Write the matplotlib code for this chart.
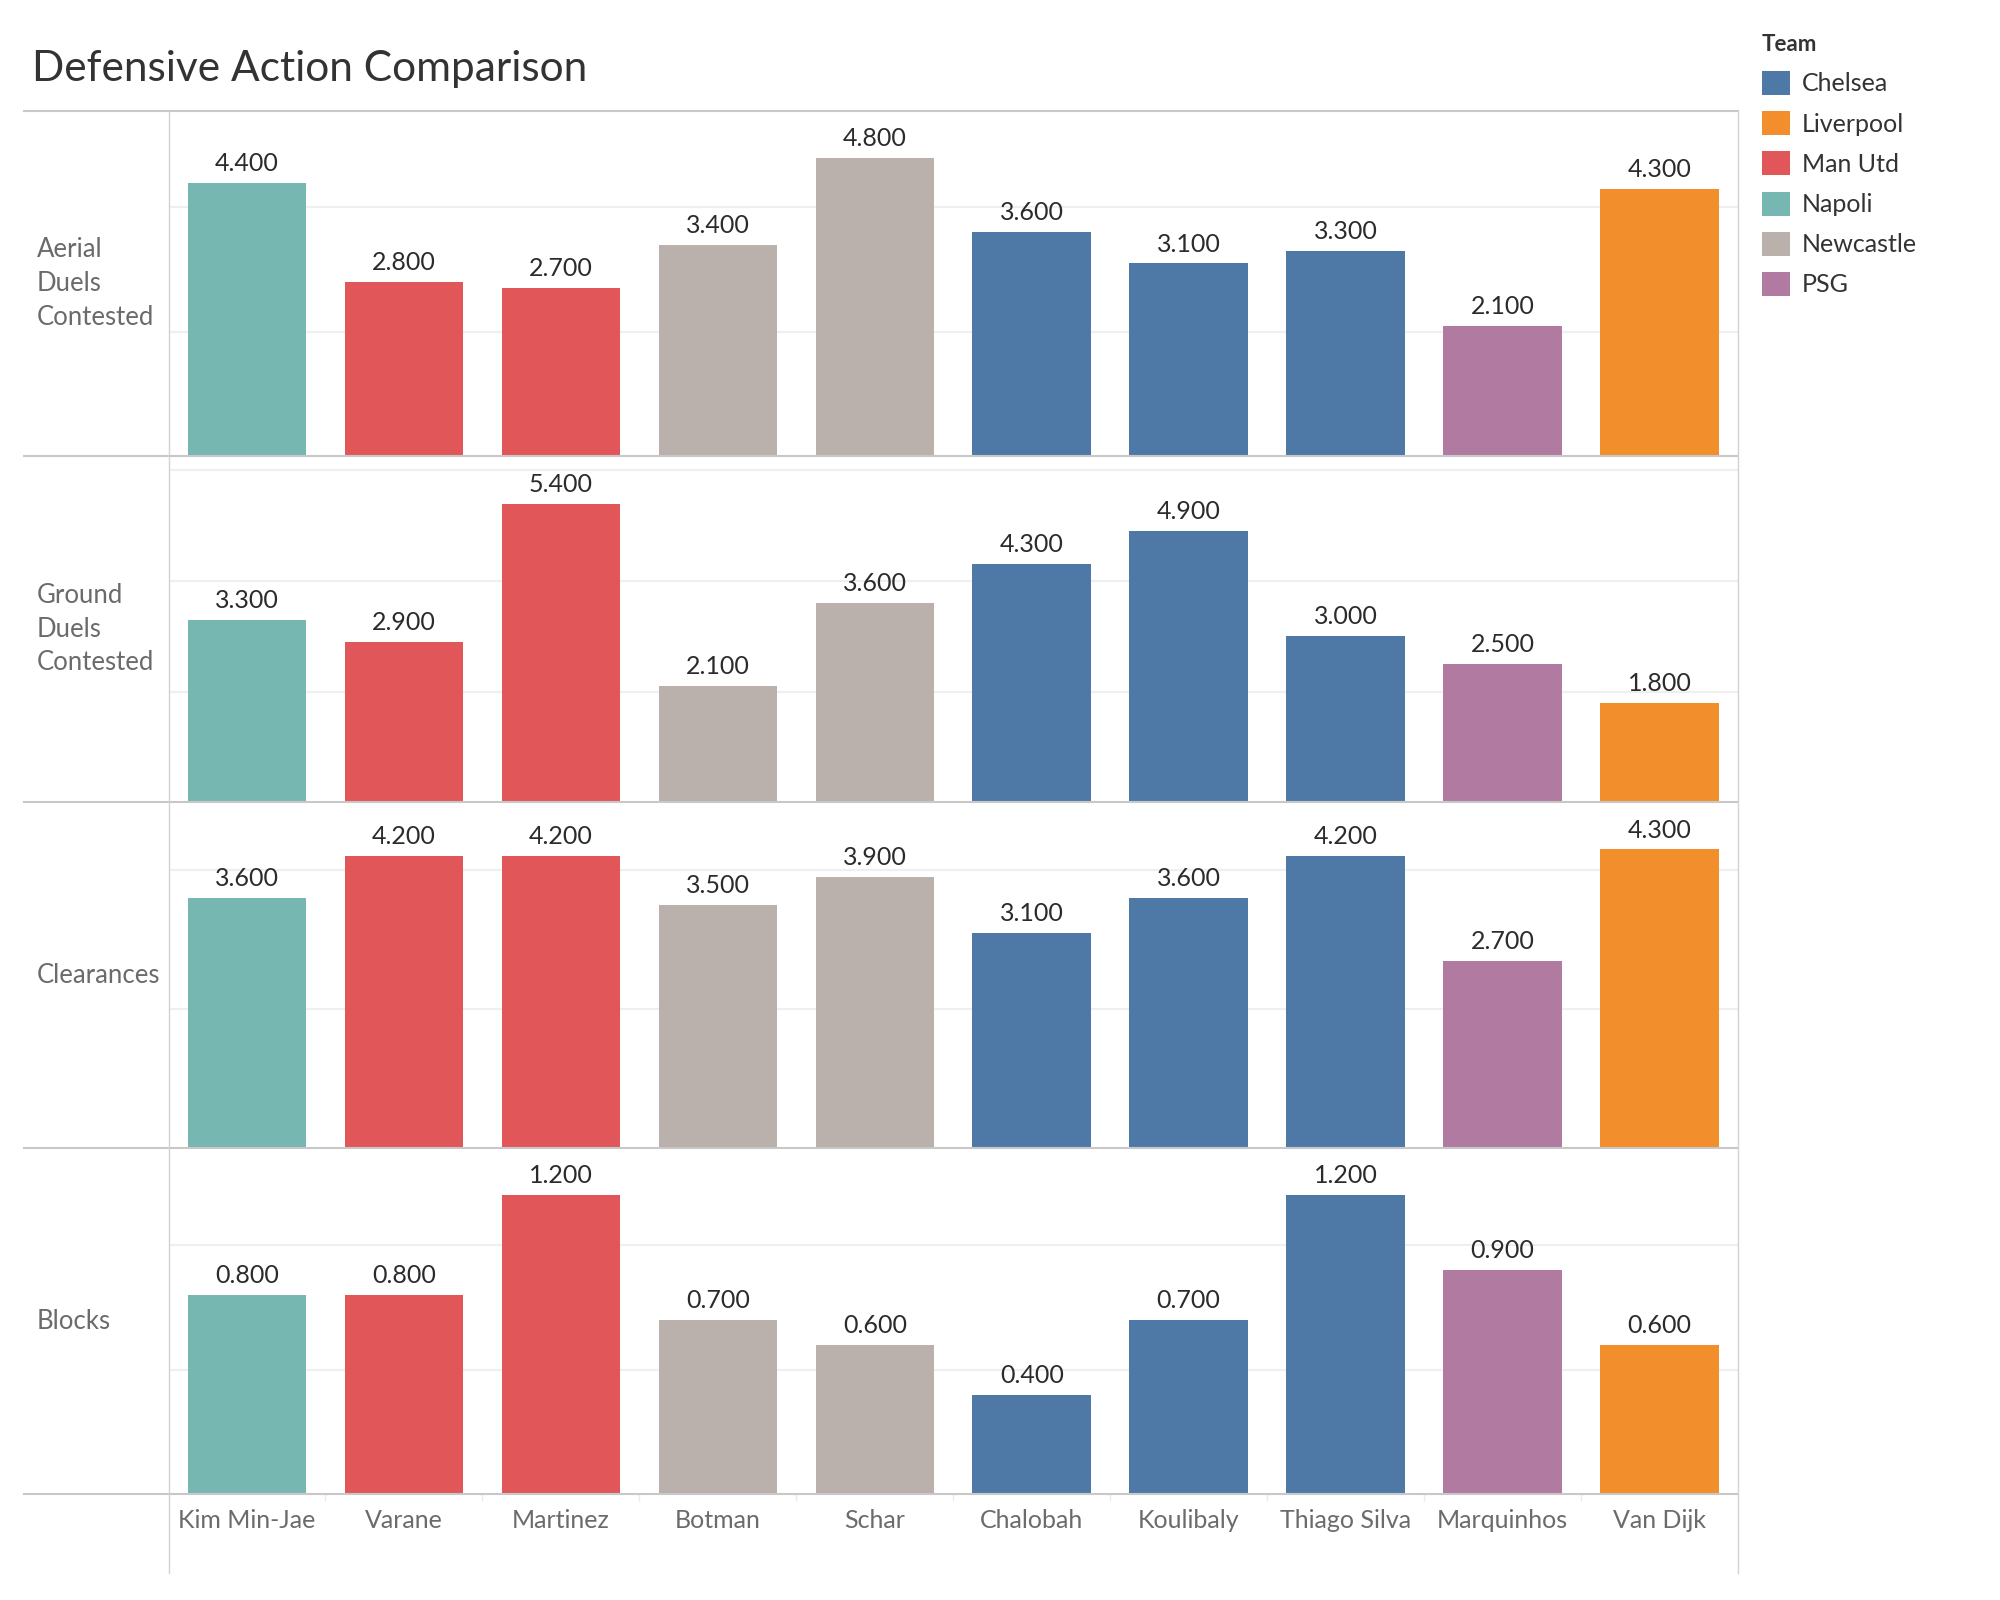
import matplotlib
matplotlib.use("Agg")
import matplotlib.pyplot as plt
from matplotlib.patches import Patch
from matplotlib.lines import Line2D
from matplotlib.ticker import FixedLocator

plt.rcParams['font.family'] = ['Lato', 'DejaVu Sans']

# ---------------- data ----------------
players = ["Kim Min-Jae", "Varane", "Martinez", "Botman", "Schar",
           "Chalobah", "Koulibaly", "Thiago Silva", "Marquinhos", "Van Dijk"]
teams = ["Napoli", "Man Utd", "Man Utd", "Newcastle", "Newcastle",
         "Chelsea", "Chelsea", "Chelsea", "PSG", "Liverpool"]
metric_names = ["Aerial\nDuels\nContested", "Ground\nDuels\nContested",
                "Clearances", "Blocks"]
aerial = [4.4, 2.8, 2.7, 3.4, 4.8, 3.6, 3.1, 3.3, 2.1, 4.3]
ground = [3.3, 2.9, 5.4, 2.1, 3.6, 4.3, 4.9, 3.0, 2.5, 1.8]
clearances = [3.6, 4.2, 4.2, 3.5, 3.9, 3.1, 3.6, 4.2, 2.7, 4.3]
blocks = [0.8, 0.8, 1.2, 0.7, 0.6, 0.4, 0.7, 1.2, 0.9, 0.6]
grid_ticks = [[2, 4], [2, 4, 6], [2, 4], [0.5, 1.0]]
legend_teams = ["Chelsea", "Liverpool", "Man Utd", "Napoli", "Newcastle", "PSG"]
team_colors = {"Chelsea": "#4e79a7", "Liverpool": "#f28e2b", "Man Utd": "#e15759",
               "Napoli": "#76b7b2", "Newcastle": "#bab0ac", "PSG": "#b07aa1"}
series = [aerial, ground, clearances, blocks]

# ---------------- layout (pixels on a 2000x1600 canvas) ----------------
W, H = 2000, 1600
fig = plt.figure(figsize=(20, 16), dpi=100)
px_left, px_right = 168.5, 1738
px_top = 110.5
row_h = 345.9
label_col_left = 24
sep_color = "#c8c8c8"

def fx(x):
    return x / W

def fy(y):
    return 1 - y / H

axes = []
for i, (name, vals) in enumerate(zip(metric_names, series)):
    top = px_top + i * row_h
    ax = fig.add_axes([fx(px_left), fy(top + row_h), (px_right - px_left) / W, row_h / H])
    xs = list(range(len(players)))
    cols = [team_colors[t] for t in teams]
    ax.bar(xs, vals, width=0.755, color=cols, zorder=3)
    ax.set_xlim(-0.5, len(players) - 0.5)
    ax.set_ylim(0, max(vals) * 1.158)
    ax.set_yticks(grid_ticks[i])
    ax.yaxis.grid(True, color="#efefef", linewidth=1.6, zorder=0)
    ax.tick_params(axis='y', length=0, labelleft=False)
    for s in ax.spines.values():
        s.set_visible(False)
    for x, v in zip(xs, vals):
        ax.annotate(f"{v:.3f}", (x, v), xytext=(0, 8.6), textcoords="offset points",
                    ha="center", va="baseline", fontsize=18, color="#2b2b2b")
    # row label
    fig.text(fx(37), fy(top + row_h / 2), name, ha="left", va="center",
             fontsize=18.5, color="#6b6b6b", linespacing=1.43)
    if i < 3:
        ax.tick_params(axis='x', length=0, labelbottom=False)
    else:
        ax.set_xticks(xs)
        ax.set_xticklabels(players, fontsize=18, color="#6b6b6b")
        ax.tick_params(axis='x', length=0, pad=11)
        ax.xaxis.set_minor_locator(FixedLocator([x + 0.5 for x in xs[:-1]]))
        ax.tick_params(axis='x', which='minor', length=5, color="#ebebeb", width=1)
    axes.append(ax)

# frame lines (Tableau-style pane borders)
for i in range(5):
    y = px_top + i * row_h
    fig.add_artist(Line2D([fx(label_col_left), fx(px_right)], [fy(y), fy(y)],
                          color=sep_color, linewidth=1.5, zorder=5))
for x in (px_left, px_right):
    fig.add_artist(Line2D([fx(x), fx(x)], [fy(px_top), fy(1573)],
                          color="#d2d2d2", linewidth=1.0, zorder=5))

# title
fig.text(fx(32), fy(81), "Defensive Action Comparison", ha="left", va="baseline",
         fontsize=30.5, color="#333333")

# legend
handles = [Patch(facecolor=team_colors[t], edgecolor="none") for t in legend_teams]
leg = fig.legend(handles, legend_teams, title="Team", loc="upper left",
                 bbox_to_anchor=(fx(1752), fy(24)), frameon=False, fontsize=18,
                 title_fontproperties={"size": 16, "weight": "bold"},
                 alignment="left", handlelength=1.1, handleheight=1.1,
                 handletextpad=0.5, labelspacing=0.63, borderaxespad=0)
for t in leg.get_texts():
    t.set_color("#333333")
leg.get_title().set_color("#333333")

fig.savefig("out.png", dpi=100, facecolor="white")
